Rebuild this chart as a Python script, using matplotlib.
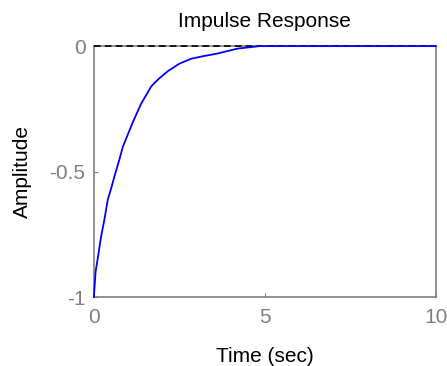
import matplotlib
matplotlib.use("Agg")
import matplotlib.pyplot as plt

t = [0, 0.0, 0.05, 0.12, 0.21, 0.31, 0.41, 0.5, 0.6, 0.75, 0.85, 1.0, 1.15, 1.38,
     1.68, 1.9, 2.16, 2.5, 2.85, 3.2, 3.6, 4.2, 4.85, 5.5, 10]
amp = [-1, -1, -0.90, -0.84, -0.76, -0.69, -0.61, -0.57, -0.52, -0.45, -0.40, -0.35,
       -0.30, -0.23, -0.16, -0.13, -0.10, -0.07, -0.05, -0.04, -0.03, -0.01, 0, 0, 0]
xticks = [0, 5, 10]
yticks = [-1, -0.5, 0]
yticklabels = ["-1", "-0.5", "0"]

plt.rcParams['font.family'] = ['Liberation Sans', 'DejaVu Sans']
fig = plt.figure(figsize=(4.47, 3.66), dpi=100)
ax = fig.add_axes([0.210, 0.1885, 0.765, 0.6855])

gray = '#808080'
ax.axhline(0, color='black', linestyle=(0, (4, 2.5)), linewidth=1.2, zorder=3, clip_on=False)
ax.plot(t, amp, color='#0000ff', linewidth=1.3, zorder=4, clip_on=False)

ax.set_xlim(0, 10)
ax.set_ylim(-1, 0)
ax.set_xticks(xticks)
ax.set_xticklabels([str(v) for v in xticks])
ax.set_yticks(yticks)
ax.set_yticklabels(yticklabels)
ax.tick_params(direction='in', length=3, colors=gray, labelsize=15, labelcolor=gray)
ax.tick_params(axis='x', pad=8)
ax.tick_params(axis='y', pad=6)
for s in ax.spines.values():
    s.set_color(gray)
    s.set_linewidth(1.2)

ax.set_title("Impulse Response", fontsize=15, color='black', pad=14)
ax.set_xlabel("Time (sec)", fontsize=15, color='black', labelpad=14)
ax.set_ylabel("Amplitude", fontsize=15, color='black', labelpad=13)

fig.savefig("out.png", dpi=100)
